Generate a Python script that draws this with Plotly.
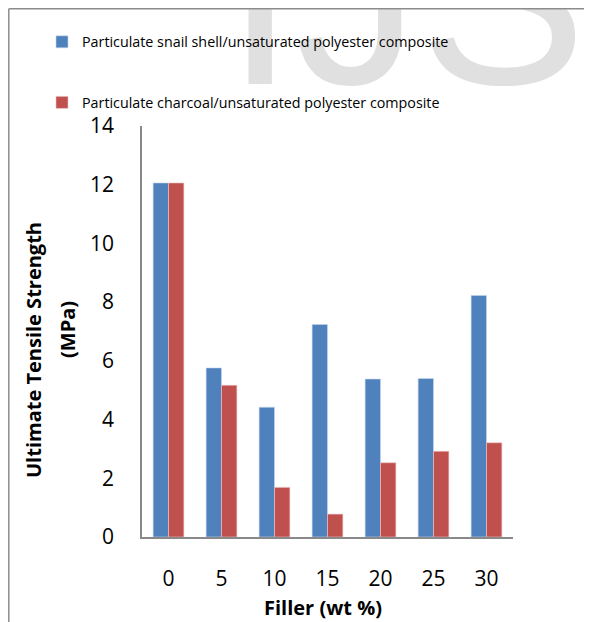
import plotly.graph_objects as go

categories = ["0", "5", "10", "15", "20", "25", "30"]
snail_shell = [12.06, 5.76, 4.42, 7.24, 5.38, 5.40, 8.23]
charcoal = [12.06, 5.17, 1.69, 0.78, 2.53, 2.92, 3.21]
series_names = ["Particulate snail shell/unsaturated polyester composite",
                "Particulate charcoal/unsaturated polyester composite"]
y_ticks = [0, 2, 4, 6, 8, 10, 12, 14]

W, H = 592, 622
OFF = 8  # page body offset of the figure in the browser window
FONT = "Open Sans"

def px_x(x):
    return (x - OFF) / W

def px_y(y):
    return 1 - (y - OFF) / H

fig = go.Figure()

# watermark on an overlay subplot that covers the whole figure (drawn below legend)
fig.add_trace(go.Scatter(
    x=[406], y=[px_y(146)], mode="text", text=["IJS"], textposition="top center",
    textfont=dict(family="Liberation Sans", size=250, color="#e0e0e0"),
    xaxis="x2", yaxis="y2", showlegend=False, hoverinfo="skip", cliponaxis=False))

fig.add_trace(go.Bar(x=categories, y=snail_shell, name=series_names[0],
                     marker=dict(color="#4F81BD", line=dict(color="#c6d6ec", width=0.6)),
                     legendgroup="a"))
fig.add_trace(go.Bar(x=categories, y=charcoal, name=series_names[1],
                     marker=dict(color="#C0504D", line=dict(color="#ecc8c7", width=0.6)),
                     legendgroup="b"))

fig.update_layout(
    width=W, height=H,
    margin=dict(l=0, r=0, t=0, b=0, autoexpand=False),
    paper_bgcolor="white", plot_bgcolor="rgba(0,0,0,0)",
    barmode="group", bargap=0.42, bargroupgap=0.0,
    font=dict(family=FONT, color="#000000"),
    xaxis=dict(domain=[px_x(142), px_x(513)], showgrid=False, zeroline=False,
               showline=True, linecolor="#898989", linewidth=2, automargin=False,
               ticks="", tickfont=dict(size=21, family=FONT), ticklabelstandoff=22,
               anchor="y"),
    yaxis=dict(domain=[px_y(537), px_y(126)], range=[0, 14], tickvals=y_ticks,
               showgrid=False, zeroline=False, showline=True, linecolor="#898989",
               linewidth=1.5, ticks="", tickfont=dict(size=21, family=FONT),
               ticklabelstandoff=22, anchor="x", automargin=False),
    xaxis2=dict(domain=[0, 1], range=[OFF, W + OFF], visible=False, fixedrange=True,
                anchor="y2", automargin=False),
    yaxis2=dict(domain=[0, 1], range=[0, 1], visible=False, fixedrange=True,
                anchor="x2", automargin=False),
    legend=dict(x=px_x(42), y=px_y(26), xanchor="left", yanchor="top",
                traceorder="grouped", tracegroupgap=39,
                font=dict(size=14.3, family=FONT), itemwidth=30,
                bgcolor="rgba(0,0,0,0)"),
    showlegend=True,
)

fig.add_annotation(text="<b>Ultimate Tensile Strength</b>", xref="paper", yref="paper",
                   x=px_x(34), y=px_y(350), textangle=-90, showarrow=False,
                   font=dict(size=20, family=FONT), xanchor="center", yanchor="middle")
fig.add_annotation(text="<b>(MPa)</b>", xref="paper", yref="paper",
                   x=px_x(67), y=px_y(330), textangle=-90, showarrow=False,
                   font=dict(size=20, family=FONT), xanchor="center", yanchor="middle")
fig.add_annotation(text="<b>Filler (wt %)</b>", xref="paper", yref="paper",
                   x=px_x(323), y=px_y(607), showarrow=False,
                   font=dict(size=20, family=FONT), xanchor="center", yanchor="middle")

# outer frame lines (left and top)
fig.add_shape(type="line", xref="paper", yref="paper", x0=px_x(8.8), x1=px_x(8.8),
              y0=px_y(8.8), y1=0, line=dict(color="#8c8c8c", width=1.5))
fig.add_shape(type="line", xref="paper", yref="paper", x0=px_x(8.8), x1=1,
              y0=px_y(8.8), y1=px_y(8.8), line=dict(color="#8c8c8c", width=1.5))

fig.write_html("out.html")
